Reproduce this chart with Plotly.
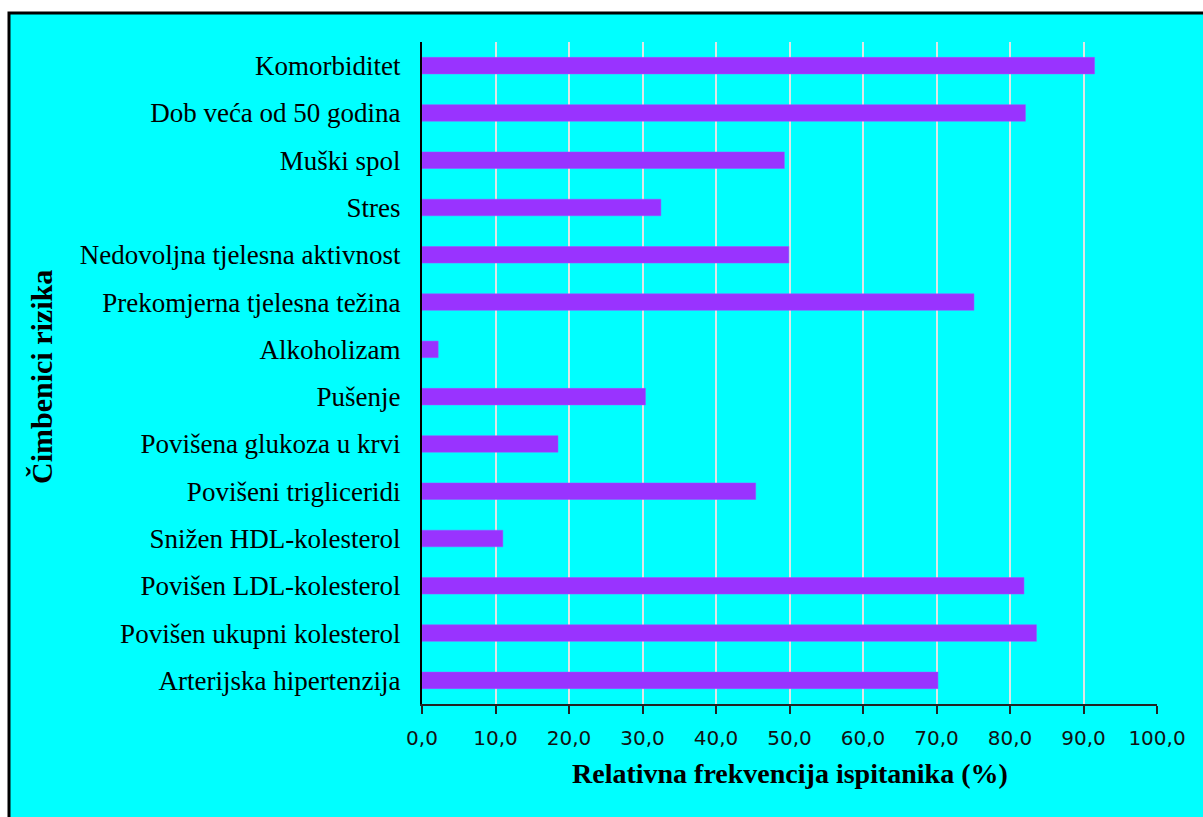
import plotly.graph_objects as go

categories = [
    "Arterijska hipertenzija",
    "Povišen ukupni kolesterol",
    "Povišen LDL-kolesterol",
    "Snižen HDL-kolesterol",
    "Povišeni trigliceridi",
    "Povišena glukoza u krvi",
    "Pušenje",
    "Alkoholizam",
    "Prekomjerna tjelesna težina",
    "Nedovoljna tjelesna aktivnost",
    "Stres",
    "Muški spol",
    "Dob veća od 50 godina",
    "Komorbiditet",
]
values = [70.2, 83.6, 81.9, 11.0, 45.4, 18.5, 30.4, 2.2, 75.1, 49.9, 32.5, 49.3, 82.1, 91.5]
tick_vals = [0, 10, 20, 30, 40, 50, 60, 70, 80, 90, 100]
tick_text = ["0,0", "10,0", "20,0", "30,0", "40,0", "50,0", "60,0", "70,0", "80,0", "90,0", "100,0"]

W, H = 1203, 817
L, R, T, B = 422, 46, 42, 113
pw, ph = W - L - R, H - T - B

fig = go.Figure(go.Bar(
    x=values, y=categories, orientation="h",
    marker=dict(color="#9933FF", line=dict(color="#A64DFF", width=0.5)),
    width=0.35,
))

fig.add_shape(type="rect", xref="paper", yref="paper",
              x0=(9 - L) / pw, x1=(W + 20 - L) / pw,
              y0=-(H + 20 - (H - B)) / ph, y1=((H - B) - 13) / ph,
              fillcolor="#00FFFF", line=dict(color="black", width=3), layer="below")

fig.update_layout(
    width=W, height=H,
    margin=dict(l=L, r=R, t=T, b=B),
    paper_bgcolor="white", plot_bgcolor="rgba(0,0,0,0)",
    showlegend=False,
    font=dict(family="Liberation Serif", color="black"),
    xaxis=dict(range=[0, 100], tickvals=tick_vals, ticktext=tick_text,
               showgrid=True, gridcolor="#dde6e6", gridwidth=1.5,
               showline=True, linecolor="#222", linewidth=2,
               ticks="outside", ticklen=8, tickcolor="#222", tickwidth=1.5,
               tickfont=dict(family="DejaVu Sans", size=20, color="#111"),
               ticklabelstandoff=7, zeroline=False, fixedrange=True),
    yaxis=dict(categoryorder="array", categoryarray=categories,
               range=[-0.5, len(categories) - 0.5],
               showline=True, linecolor="black", linewidth=2, showgrid=False,
               ticks="", tickfont=dict(family="Liberation Serif", size=27, color="black"),
               ticklabelstandoff=14, fixedrange=True),
    annotations=[
        dict(text="<b>Relativna frekvencija ispitanika (%)</b>", xref="paper", yref="paper",
             x=(790 - L) / pw, y=-(773 - (H - B)) / ph, showarrow=False,
             font=dict(family="Liberation Serif", size=28, color="black"),
             xanchor="center", yanchor="middle"),
        dict(text="<b>Čimbenici rizika</b>", xref="paper", yref="paper",
             x=(42 - L) / pw, y=((H - B) - 377) / ph, showarrow=False, textangle=-90,
             font=dict(family="Liberation Serif", size=30, color="black"),
             xanchor="center", yanchor="middle"),
    ],
)

fig.write_html("out.html", config={"displayModeBar": False},
               post_script="document.body.style.margin='0';document.body.style.overflow='hidden';")
